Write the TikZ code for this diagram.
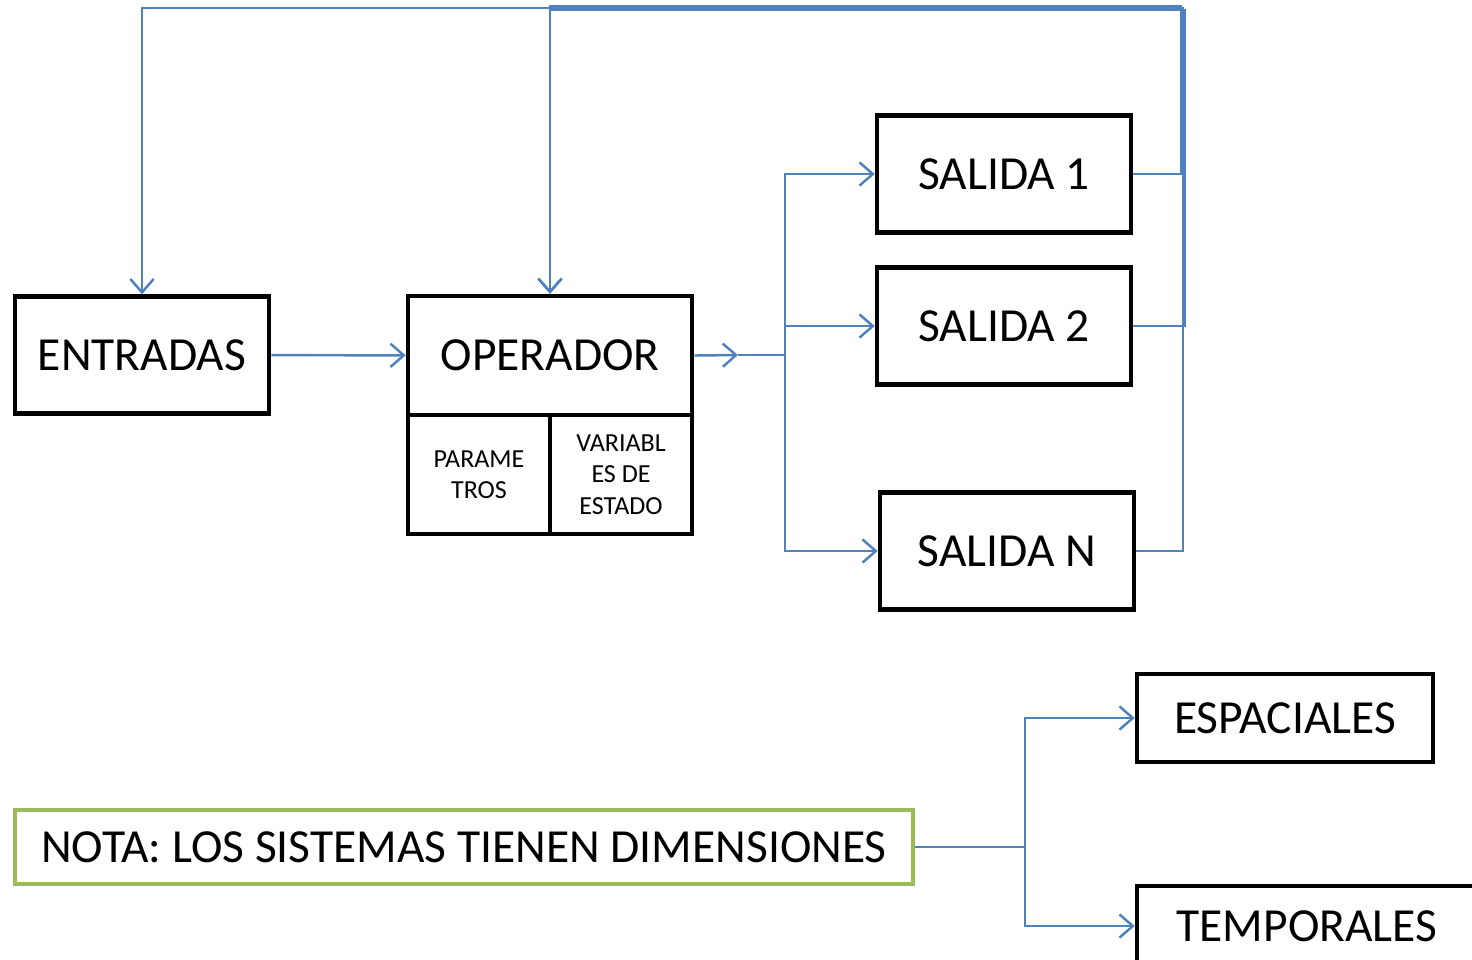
\documentclass[tikz,border=0pt]{standalone}
\usepackage{fontspec}
\setmainfont{Carlito}
\usetikzlibrary{arrows.meta, positioning}
\usepackage{xcolor}
\definecolor{linkblue}{RGB}{79,129,189}
\definecolor{notegreen}{RGB}{155,187,89}
\def\boxw{2.54cm}
\def\boxh{1.17cm}

\begin{document}
\begin{tikzpicture}[x=0.01cm, y=-0.01cm, >={Straight Barb[length=3.8pt,width=6.6pt]}]
    \tikzstyle{block}=[rectangle, draw=black, line width=1.25pt, minimum width=\boxw, minimum height=\boxh, inner sep=0pt, font=\fontsize{13.5}{16}\selectfont]
    \tikzstyle{small block}=[block, minimum width=1.42cm, minimum height=1.19cm, align=center, font=\fontsize{7.4}{8.9}\selectfont]
    \tikzstyle{note}=[block, draw=notegreen, minimum width=8.98cm, minimum height=0.74cm]
    \tikzstyle{link}=[->, draw=linkblue, line width=0.7pt]
    \tikzstyle{wire}=[draw=linkblue, line width=0.7pt]

    \useasboundingbox (0,0) rectangle (1472,959);

    % Draw the system blocks
    \node[block] (E) at (142,355) {ENTRADAS};
    \node[block, minimum width=2.84cm, minimum height=1.19cm] (O) at (550,355.5) {OPERADOR};
    \node[small block] (P) at (479,474.5) {PARAME\\TROS};
    \node[small block] (V) at (621,474.5) {VARIABL\\ES DE\\ESTADO};

    % Draw the outputs
    \node[block] (S-1) at (1004,174) {SALIDA 1};
    \node[block] (S-2) at (1004,326) {SALIDA 2};
    \node[block] (S-N) at (1007,551) {SALIDA N};

    % Draw the note and its dimensions
    \node[note] (N) at (464,847) {NOTA: LOS SISTEMAS TIENEN DIMENSIONES};
    \node[block, minimum width=2.96cm, minimum height=0.88cm] (D-1) at (1285,718) {ESPACIALES};
    \node[block, minimum width=3.40cm, minimum height=0.80cm] (D-2) at (1307,926) {TEMPORALES};

    \coordinate (op) at (738,355);
    \coordinate (bus) at (785,355);
    \coordinate (fb-1) at (1181,6);
    \coordinate (fb-2) at (1185,10);
    \coordinate (fb-N) at (1183,8);
    \coordinate (nb) at (1025,847);

    \draw[link] (E) -- (O);
    \draw[link] (O.east) -- (op);
    \draw[wire] (op) -- (bus);
    \draw[link] (bus) |- (S-1.west);
    \draw[link] (bus) |- (S-2.west);
    \draw[link] (bus) |- (S-N.west);

    % feedback
    \draw[link] (S-1.east) -| (fb-1) -| (O.north);
    \draw[link] (S-2.east) -| (fb-2) -| (O.north);
    \draw[link] (S-N.east) -| (fb-N) -| (E.north);

    \draw[wire] (N.east) -- (nb);
    \draw[link] (nb) |- (D-1.west);
    \draw[link] (nb) |- (D-2.west);
\end{tikzpicture}
\end{document}
